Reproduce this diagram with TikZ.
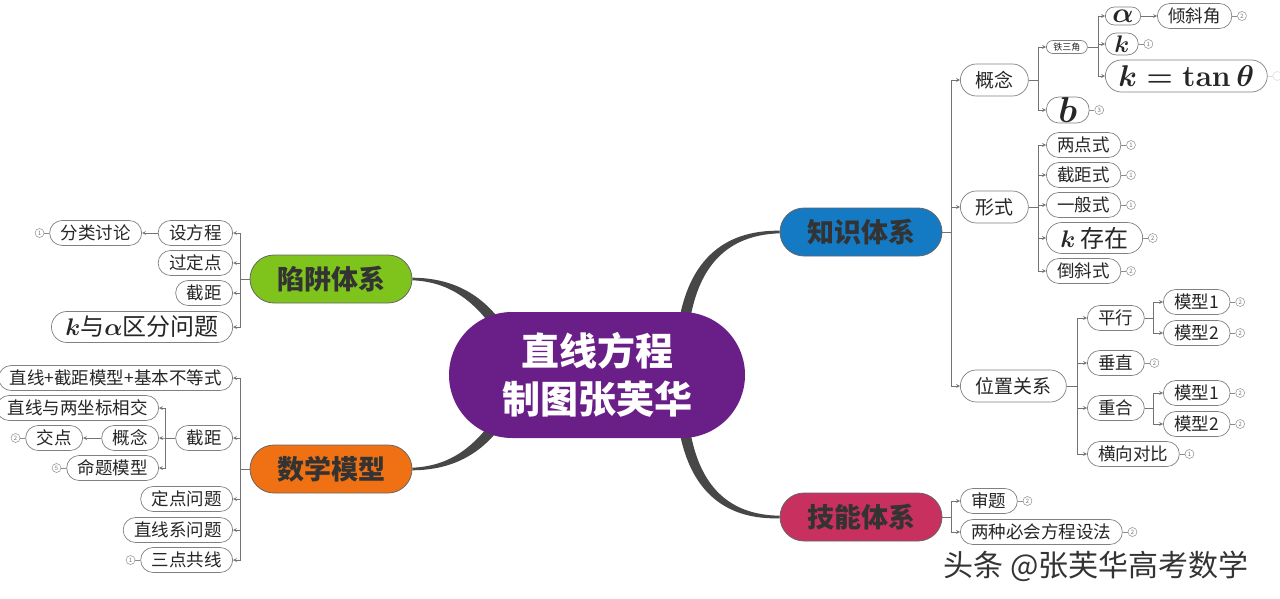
\documentclass[tikz,border=0pt]{standalone}
\usepackage{fix-cm}
\usepackage[no-math]{fontspec}
\setmainfont{Noto Sans CJK SC}
\usepackage{tikz}
\usetikzlibrary{positioning,arrows}
\definecolor{rootc}{RGB}{106,31,136}
\definecolor{bluec}{RGB}{20,122,196}
\definecolor{greenc}{RGB}{126,196,28}
\definecolor{orangec}{RGB}{240,112,20}
\definecolor{redc}{RGB}{200,48,96}
\pgfdeclarelayer{back}
\pgfsetlayers{back,main}

\begin{document}
\begin{tikzpicture}[x=1pt, y=-1pt, >=stealth,
	leaf/.style={draw=black!50, line width=0.7pt, fill=white, rounded corners=12.5pt, inner xsep=11pt, inner ysep=0pt, minimum height=25pt, font=\fontsize{17.5}{17.5}\selectfont, text=black!85},
	mid/.style={leaf, rounded corners=16pt, inner xsep=15pt, minimum height=32pt, font=\fontsize{19}{19}\selectfont},
	topic/.style={draw=black!60, line width=0.8pt, rounded corners=24pt, minimum height=48pt, inner xsep=27pt, font=\fontsize{27}{27}\selectfont\bfseries, text=black!80},
	badge/.style={circle, draw=black!45, line width=0.5pt, inner sep=0pt, minimum size=9pt, font=\fontsize{6}{6}\selectfont, text=black!55},
	link/.style={draw=black!55, line width=0.7pt, ->},
	tick/.style={draw=black!45, line width=0.6pt},
	stem/.style={fill=black!72}]
		
		\useasboundingbox (0,0) rectangle (1280,599);
		
		\node [rounded corners=63pt, fill=rootc, minimum height=126pt, inner xsep=53pt, align=center, text=white, font=\fontsize{38}{48}\selectfont\bfseries] (root) at (597,375) {直线方程\\制图张芙华};
		
		\node [topic, fill=bluec] (zhishi) at (861,232) {知识体系};
		\node [topic, fill=greenc] (xianjing) at (331,279) {陷阱体系};
		\node [topic, fill=orangec] (moxing) at (331,469) {数学模型};
		\node [topic, fill=redc] (jineng) at (861,517) {技能体系};
		
		\begin{pgfonlayer}{back}
		\fill [stem] (677,335) .. controls (685,262) and (722,230) .. ([yshift=1.3pt]zhishi.west) -- ([yshift=-1.3pt]zhishi.west) .. controls (727,235) and (695,266) .. (688,335) -- cycle;
		\fill [stem] (677,415) .. controls (685,488) and (722,520) .. ([yshift=-1.3pt]jineng.west) -- ([yshift=1.3pt]jineng.west) .. controls (727,515) and (695,484) .. (688,415) -- cycle;
		\fill [stem] ([yshift=1.3pt]xianjing.east) .. controls (455,278) and (485,296) .. (507,330) -- (498,335) .. controls (476,303) and (452,282) .. ([yshift=-1.3pt]xianjing.east) -- cycle;
		\fill [stem] ([yshift=-1.3pt]moxing.east) .. controls (455,470) and (485,452) .. (507,418) -- (498,413) .. controls (476,445) and (452,466) .. ([yshift=1.3pt]moxing.east) -- cycle;
		\end{pgfonlayer}
		
		% 知识体系
		\node [mid, anchor=west] (gainian) at (960,80) {概念};
		\node [mid, anchor=west] (xingshi) at (960,207) {形式};
		\node [mid, anchor=west] (weizhi) at (960,386) {位置关系};
		\foreach \n in {gainian,xingshi,weizhi}
		\draw [link] (zhishi.east) -- ++(9,0) |- (\n.west);
		
		\node [leaf, rounded corners=6.5pt, inner xsep=7pt, font=\fontsize{9}{9}\selectfont, minimum height=13pt, anchor=west] (tiesanjiao) at (1046,47) {铁三角};
		\node [leaf, inner xsep=12pt, font=\fontsize{36}{36}\selectfont\boldmath, minimum height=26pt, anchor=west] (b) at (1046,110) {$b$};
		\foreach \n in {tiesanjiao,b}
		\draw [link] (gainian.east) -- ++(10,0) |- (\n.west);
		
		\node [leaf, rounded corners=9pt, inner xsep=7pt, font=\fontsize{28}{28}\selectfont\boldmath, minimum height=18pt, anchor=west] (alpha) at (1105,16) {$\alpha$};
		\node [leaf, rounded corners=11pt, inner xsep=9pt, font=\fontsize{24}{24}\selectfont\boldmath, minimum height=22pt, anchor=west] (k) at (1105,44) {$k$};
		\node [leaf, rounded corners=16pt, inner xsep=13pt, font=\fontsize{30}{30}\selectfont\boldmath, minimum height=32pt, anchor=west] (ktan) at (1105,76) {$k=\tan\theta$};
		\foreach \n in {alpha,k,ktan}
		\draw [link] (tiesanjiao.east) -- ++(11,0) |- (\n.west);
		\node [leaf, anchor=west] (qingxie) at (1157,16) {倾斜角};
		\draw [link] (alpha) -- (qingxie);
		
		\foreach \n/\t [count=\y] in {liangdian/两点式, jieju/截距式, yiban/一般式}
		\node [leaf, anchor=west] (\n) at (1046,115+30*\y) {\t};
		\node [leaf, rounded corners=15.5pt, inner xsep=14pt, font=\fontsize{24}{24}\selectfont\boldmath, minimum height=31pt, anchor=west] (kcunzai) at (1046,238) {$k$ {\unboldmath 存在}};
		\node [leaf, anchor=west] (daoxie) at (1046,271) {倒斜式};
		\foreach \n in {liangdian,jieju,yiban,kcunzai,daoxie}
		\draw [link] (xingshi.east) -- ++(10,0) |- (\n.west);
		
		\node [leaf, anchor=west] (pingxing) at (1087,318) {平行};
		\node [leaf, anchor=west] (chuizhi) at (1087,363) {垂直};
		\node [leaf, anchor=west] (chonghe) at (1087,408) {重合};
		\node [leaf, anchor=west] (hengxiang) at (1087,454) {横向对比};
		\foreach \n in {pingxing,chuizhi,chonghe,hengxiang}
		\draw [link] (weizhi.east) -- ++(11,0) |- (\n.west);
		
		\node [leaf, anchor=west] (px1) at (1163,302) {模型1};
		\node [leaf, anchor=west] (px2) at (1163,333) {模型2};
		\node [leaf, anchor=west] (ch1) at (1163,393) {模型1};
		\node [leaf, anchor=west] (ch2) at (1163,424) {模型2};
		\foreach \n in {px1,px2}
		\draw [link] (pingxing.east) -- ++(9,0) |- (\n.west);
		\foreach \n in {ch1,ch2}
		\draw [link] (chonghe.east) -- ++(9,0) |- (\n.west);
		
		% 技能体系
		\node [leaf, anchor=west] (shenti) at (960,501) {审题};
		\node [leaf, anchor=west] (liangzhong) at (960,532) {两种必会方程设法};
		\foreach \n in {shenti,liangzhong}
		\draw [link] (jineng.east) -- ++(9,0) |- (\n.west);
		
		% 陷阱体系
		\node [leaf, anchor=east] (shefang) at (233,233) {设方程};
		\node [leaf, anchor=east] (guoding) at (233,263) {过定点};
		\node [leaf, anchor=east] (jieju2) at (233,293) {截距};
		\node [leaf, rounded corners=15.5pt, inner xsep=14pt, font=\fontsize{24}{24}\selectfont\boldmath, minimum height=31pt, anchor=east] (kyu) at (233,327) {$k$与$\alpha$区分问题};
		\foreach \n in {shefang,guoding,jieju2,kyu}
		\draw [link] (xianjing.west) -- ++(-9,0) |- (\n.east);
		\node [leaf, anchor=east] (fenlei) at (142,233) {分类讨论};
		\draw [link] (shefang) -- (fenlei);
		
		% 数学模型
		\node [leaf, anchor=east] (zhixian) at (233,378) {直线+截距模型+基本不等式};
		\node [leaf, anchor=east] (jieju3) at (233,438) {截距};
		\node [leaf, anchor=east] (dingdian) at (233,499) {定点问题};
		\node [leaf, anchor=east] (zhixianxi) at (233,530) {直线系问题};
		\node [leaf, anchor=east] (sandian) at (233,560) {三点共线};
		\foreach \n in {zhixian,jieju3,dingdian,zhixianxi,sandian}
		\draw [link] (moxing.west) -- ++(-9,0) |- (\n.east);
		
		\node [leaf, anchor=east] (xiangjiao) at (159,408) {直线与两坐标相交};
		\node [leaf, anchor=east] (gainian2) at (159,438) {概念};
		\node [leaf, anchor=east] (mingti) at (159,468) {命题模型};
		\foreach \n in {xiangjiao,gainian2,mingti}
		\draw [link] (jieju3.west) -- ++(-10,0) |- (\n.east);
		\node [leaf, anchor=east] (jiaodian) at (83,438) {交点};
		\draw [link] (gainian2) -- (jiaodian);
		
		% circled counts
		\foreach \n/\v in {qingxie/2, k/1, b/3, liangdian/1, jieju/1, yiban/1, kcunzai/2, daoxie/2, px1/2, px2/2, chuizhi/2, ch1/2, ch2/2, hengxiang/1, shenti/2, liangzhong/2}
		{
			\node [badge, right=5pt of \n] (\n-num) {\v};
			\draw [tick] (\n) -- (\n-num);
		}
		\foreach \n/\v in {fenlei/1, jiaodian/2, mingti/5, sandian/1}
		{
			\node [badge, left=5pt of \n] (\n-num) {\v};
			\draw [tick] (\n) -- (\n-num);
		}
		\node [badge, draw=black!15, right=5pt of ktan] (ktan-num) {};
		\draw [tick, draw=black!15] (ktan) -- (ktan-num);
		
		\node [font=\fontsize{30}{30}\selectfont, text=black!80] (watermark) at (1096,566) {头条 @张芙华高考数学};
		
\end{tikzpicture}
\end{document}
